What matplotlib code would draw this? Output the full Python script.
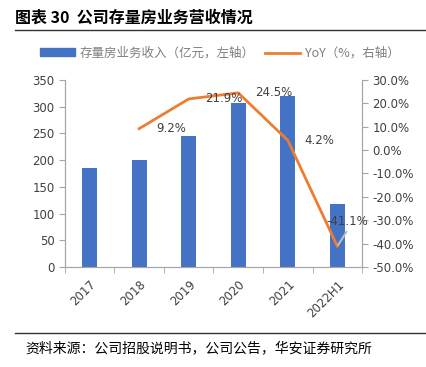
import numpy as np
import matplotlib.pyplot as plt
from matplotlib.lines import Line2D
from matplotlib.patches import Patch

plt.rcParams['font.family'] = ['Noto Sans CJK SC', 'DejaVu Sans']

anos = ['2017', '2018', '2019', '2020', '2021', '2022H1']
receita = [185, 201, 245, 307, 320, 118]
yoy_anos = ['2018', '2019', '2020', '2021', '2022H1']
yoy = [9.2, 21.9, 24.5, 4.2, -41.1]

azul = '#4472C4'
laranja = '#ED7D31'
cinza = '#A6A6A6'
texto = '#404040'

fig = plt.figure(figsize=(4.27, 3.67), dpi=100)
ax = fig.add_axes([0.152, 0.2725, 0.696, 0.5095])
ax2 = ax.twinx()

x = np.arange(len(anos))
ax.bar(x, receita, width=0.3, color=azul, zorder=2)
ax.set_xlim(-0.5, len(anos) - 0.5)
ax.set_ylim(0, 350)
ax.set_yticks(np.arange(0, 351, 50))

xl = [anos.index(a) for a in yoy_anos]
ax2.plot(xl, yoy, color=laranja, lw=2, zorder=3)
ax2.set_ylim(-50, 30)
ax2.set_yticks(np.arange(-50, 31, 10))
ax2.set_yticklabels([f'{v:.1f}%' for v in np.arange(-50, 31, 10)])

# rótulos dos pontos
for xi, v in zip(xl[:-1], yoy[:-1]):
    ax2.annotate(f'{v:.1f}%', (xi, v), xytext=(12, 0), textcoords='offset points',
                 ha='left', va='center', fontsize=8.5, color=texto, family='DejaVu Sans')
ax2.annotate(f'{yoy[-1]:.1f}%', (xl[-1], yoy[-1]), xytext=(-8, 18), textcoords='offset points',
             ha='left', va='center', fontsize=8.5, color=texto, family='DejaVu Sans',
             zorder=5,
             arrowprops=dict(arrowstyle='-', color='#BFBFBF', lw=1.5, shrinkA=1, shrinkB=1,
                             relpos=(0.55, 0.0)))

ax.set_xticks(x)
ax.set_xticklabels(anos, rotation=45, ha='right', rotation_mode='anchor')
ax.set_xticks(np.arange(-0.5, len(anos), 1), minor=True)
ax.tick_params(axis='x', which='major', length=0, pad=8)
ax.tick_params(axis='x', which='minor', length=4, color=cinza)

for a in (ax, ax2):
    a.spines['top'].set_visible(False)
    for s in ('left', 'right', 'bottom'):
        a.spines[s].set_color(cinza)
    a.tick_params(labelsize=8.5, labelcolor=texto, color=cinza)
    for lab in a.get_xticklabels() + a.get_yticklabels():
        lab.set_family('DejaVu Sans')
ax.tick_params(axis='y', length=4)
ax2.tick_params(axis='y', length=4)

# título e linhas
fig.text(0.035, 0.952, '图表 30  公司存量房业务营收情况', fontsize=11.5, fontweight='bold',
         va='center', ha='left', color='black')
fig.add_artist(Line2D([0.035, 1.0], [0.918, 0.918], color='#333333', lw=1))
fig.add_artist(Line2D([0.035, 1.0], [0.093, 0.093], color='#333333', lw=1))
fig.text(0.06, 0.052, '资料来源：公司招股说明书，公司公告，华安证券研究所', fontsize=10,
         va='center', ha='left', color='black')

handles = [Patch(color=azul), Line2D([0], [0], color=laranja, lw=2)]
fig.legend(handles, ['存量房业务收入（亿元，左轴）', 'YoY（%，右轴）'], loc='center',
           bbox_to_anchor=(0.515, 0.855), ncol=2, frameon=False, fontsize=9,
           labelcolor='#7F7F7F', handlelength=2.8, handleheight=0.6, columnspacing=0.8,
           handletextpad=0.4)

fig.savefig('out.png', dpi=100)
